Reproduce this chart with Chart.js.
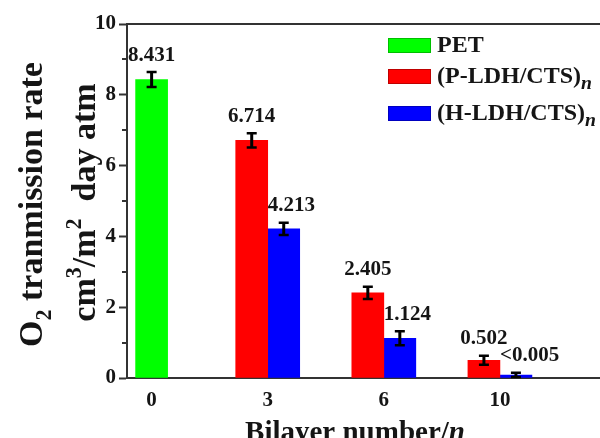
<!DOCTYPE html>
<html>
<head>
<meta charset="utf-8">
<script src="https://cdn.jsdelivr.net/npm/chart.js@4.4.1/dist/chart.umd.min.js"></script>
<style>
    html, body { margin: 0; padding: 0; background: #fff; }
</style>
</head>
<body>
<canvas id="o2Chart" width="600" height="438"></canvas>
<script>
// Bilayer numbers on the x axis
const categories = ['0', '3', '6', '10'];

// O2 transmission rate values (cm3/m2 day atm)
const petValues = [8.431, null, null, null];
const pValues = [null, 6.714, 2.405, 0.502];
const hValues = [null, 4.213, 1.124, 0.085];

// error bar half heights
const petErrors = [0.21, null, null, null];
const pErrors = [null, 0.2, 0.17, 0.13];
const hErrors = [null, 0.17, 0.2, 0.06];

// numbers written above the bars
const petLabels = ['8.431', null, null, null];
const pLabels = [null, '6.714', '2.405', '0.502'];
const hLabels = [null, '4.213', '1.124', '<0.005'];

const yTicks = [0, 2, 4, 6, 8, 10];

const SERIF = "'Liberation Serif', 'Times New Roman', serif";
const INK = '#151515';
const AXIS = '#333333';

function toPoints(values) {
    return values.map((v, i) => ({ x: i, y: v }));
}

function partSize(p, size) {
    if (p.scale) return size * p.scale;
    return (p.sub || p.sup) ? size * 0.65 : size;
}

// width of text made of plain / sub / sup / italic pieces
function richWidth(ctx, parts, size) {
    let w = 0;
    parts.forEach(p => {
        ctx.font = `${p.it ? 'italic ' : ''}bold ${partSize(p, size)}px ${SERIF}`;
        w += ctx.measureText(p.t).width;
    });
    return w;
}

function drawRich(ctx, parts, size, x, y) {
    let cx = x;
    ctx.textBaseline = 'alphabetic';
    ctx.textAlign = 'left';
    parts.forEach(p => {
        ctx.font = `${p.it ? 'italic ' : ''}bold ${partSize(p, size)}px ${SERIF}`;
        let dy = 0;
        if (p.sub) dy = size * 0.26;
        if (p.sup) dy = -size * 0.42;
        ctx.fillText(p.t, cx, y + dy);
        cx += ctx.measureText(p.t).width;
    });
}

const extrasPlugin = {
    id: 'extras',
    afterDatasetsDraw(chart) {
        const ctx = chart.ctx;
        const area = chart.chartArea;
        const yScale = chart.scales.y;

        ctx.save();
        // top frame line
        ctx.strokeStyle = AXIS;
        ctx.lineWidth = 2;
        ctx.beginPath();
        ctx.moveTo(area.left - 1, area.top);
        ctx.lineTo(area.right, area.top);
        ctx.stroke();

        // minor ticks on y axis
        for (let v = 1; v < 10; v += 2) {
            const py = Math.round(yScale.getPixelForValue(v));
            ctx.beginPath();
            ctx.moveTo(area.left - 5, py);
            ctx.lineTo(area.left, py);
            ctx.stroke();
        }

        // error bars and value labels
        chart.data.datasets.forEach((ds, d) => {
            const meta = chart.getDatasetMeta(d);
            ds.values.forEach((v, i) => {
                if (v === null) return;
                const bar = meta.data[i];
                const top = yScale.getPixelForValue(v + ds.errors[i]);
                const bot = yScale.getPixelForValue(Math.max(v - ds.errors[i], 0));
                ctx.strokeStyle = '#000';
                ctx.lineWidth = 3;
                ctx.beginPath();
                ctx.moveTo(bar.x, top);
                ctx.lineTo(bar.x, bot);
                ctx.stroke();
                ctx.lineWidth = 2.5;
                ctx.beginPath();
                ctx.moveTo(bar.x - 5, top);
                ctx.lineTo(bar.x + 5, top);
                ctx.moveTo(bar.x - 5, bot);
                ctx.lineTo(bar.x + 5, bot);
                ctx.stroke();

                const txt = ds.valueLabels[i];
                if (!txt) return;
                ctx.fillStyle = INK;
                ctx.font = `bold 21px ${SERIF}`;
                ctx.textBaseline = 'middle';
                if (ds.labelAlign === 'left') {
                    ctx.textAlign = 'left';
                    ctx.fillText(txt, bar.x - bar.width / 2, top - 17);
                } else {
                    ctx.textAlign = 'center';
                    ctx.fillText(txt, bar.x, top - 17);
                }
            });
        });
        ctx.restore();
    },
    afterDraw(chart) {
        const ctx = chart.ctx;
        ctx.save();
        ctx.fillStyle = INK;

        // y axis title, two rotated lines
        const line1 = [{ t: 'O' }, { t: '2', sub: true }, { t: ' tranmission rate' }];
        const line2 = [{ t: 'cm' }, { t: '3', sup: true }, { t: '/m' }, { t: '2', sup: true }, { t: '  day atm' }];
        [[line1, 42, 204.5], [line2, 95, 202.5]].forEach(([parts, bx, cy]) => {
            ctx.save();
            ctx.translate(bx, cy);
            ctx.rotate(-Math.PI / 2);
            const w = richWidth(ctx, parts, 34);
            drawRich(ctx, parts, 34, -w / 2, 0);
            ctx.restore();
        });

        // x axis title
        const xt = [{ t: 'Bilayer number/' }, { t: 'n', it: true }];
        const xw = richWidth(ctx, xt, 29);
        drawRich(ctx, xt, 29, 355 - xw / 2, 441);

        // legend
        const legendRows = [
            { parts: [{ t: 'PET' }], color: chart.data.datasets[0].backgroundColor, y: 52 },
            { parts: [{ t: '(P-LDH/CTS)' }, { t: 'n', sub: true, it: true, scale: 0.82 }], color: chart.data.datasets[1].backgroundColor, y: 83 },
            { parts: [{ t: '(H-LDH/CTS)' }, { t: 'n', sub: true, it: true, scale: 0.82 }], color: chart.data.datasets[2].backgroundColor, y: 120 }
        ];
        legendRows.forEach(row => {
            ctx.fillStyle = row.color;
            ctx.fillRect(388, row.y - 14, 43, 15);
            ctx.strokeStyle = 'rgba(0,0,0,0.25)';
            ctx.lineWidth = 1;
            ctx.strokeRect(388.5, row.y - 13.5, 42, 14);
            ctx.fillStyle = INK;
            drawRich(ctx, row.parts, 24, 437, row.y);
        });
        ctx.restore();
    }
};

const ctx = document.getElementById('o2Chart').getContext('2d');

new Chart(ctx, {
    type: 'bar',
    data: {
        datasets: [
            {
                label: 'PET',
                data: toPoints(petValues),
                values: petValues,
                errors: petErrors,
                valueLabels: petLabels,
                backgroundColor: '#00ff00'
            },
            {
                label: '(P-LDH/CTS)n',
                data: toPoints(pValues),
                values: pValues,
                errors: pErrors,
                valueLabels: pLabels,
                backgroundColor: '#ff0000'
            },
            {
                label: '(H-LDH/CTS)n',
                data: toPoints(hValues),
                values: hValues,
                errors: hErrors,
                valueLabels: hLabels,
                labelAlign: 'left',
                backgroundColor: '#0000ff'
            }
        ]
    },
    options: {
        responsive: false,
        animation: false,
        devicePixelRatio: 1,
        skipNull: true,
        barThickness: 32,
        layout: { padding: { top: 24, right: 0, left: 0, bottom: 0 } },
        plugins: {
            legend: { display: false },
            tooltip: { enabled: false }
        },
        scales: {
            x: {
                type: 'linear',
                offset: false,
                min: -0.212,
                max: 3.862,
                afterFit: s => { s.height = 60; },
                afterBuildTicks: s => { s.ticks = categories.map((c, i) => ({ value: i })); },
                grid: { display: false, drawTicks: false, offset: false },
                border: { display: true, color: AXIS, width: 2 },
                ticks: {
                    padding: 10,
                    color: INK,
                    font: { family: SERIF, size: 21, weight: 'bold' },
                    callback: v => categories[v]
                }
            },
            y: {
                min: 0,
                max: 10,
                afterFit: s => { s.width = 127; },
                afterBuildTicks: s => { s.ticks = yTicks.map(v => ({ value: v })); },
                grid: { drawOnChartArea: false, drawTicks: true, tickLength: 8, tickColor: AXIS, tickWidth: 2 },
                border: { display: true, color: AXIS, width: 2 },
                ticks: {
                    padding: 3,
                    color: INK,
                    font: { family: SERIF, size: 21, weight: 'bold' }
                }
            }
        }
    },
    plugins: [extrasPlugin]
});
</script>
</body>
</html>
